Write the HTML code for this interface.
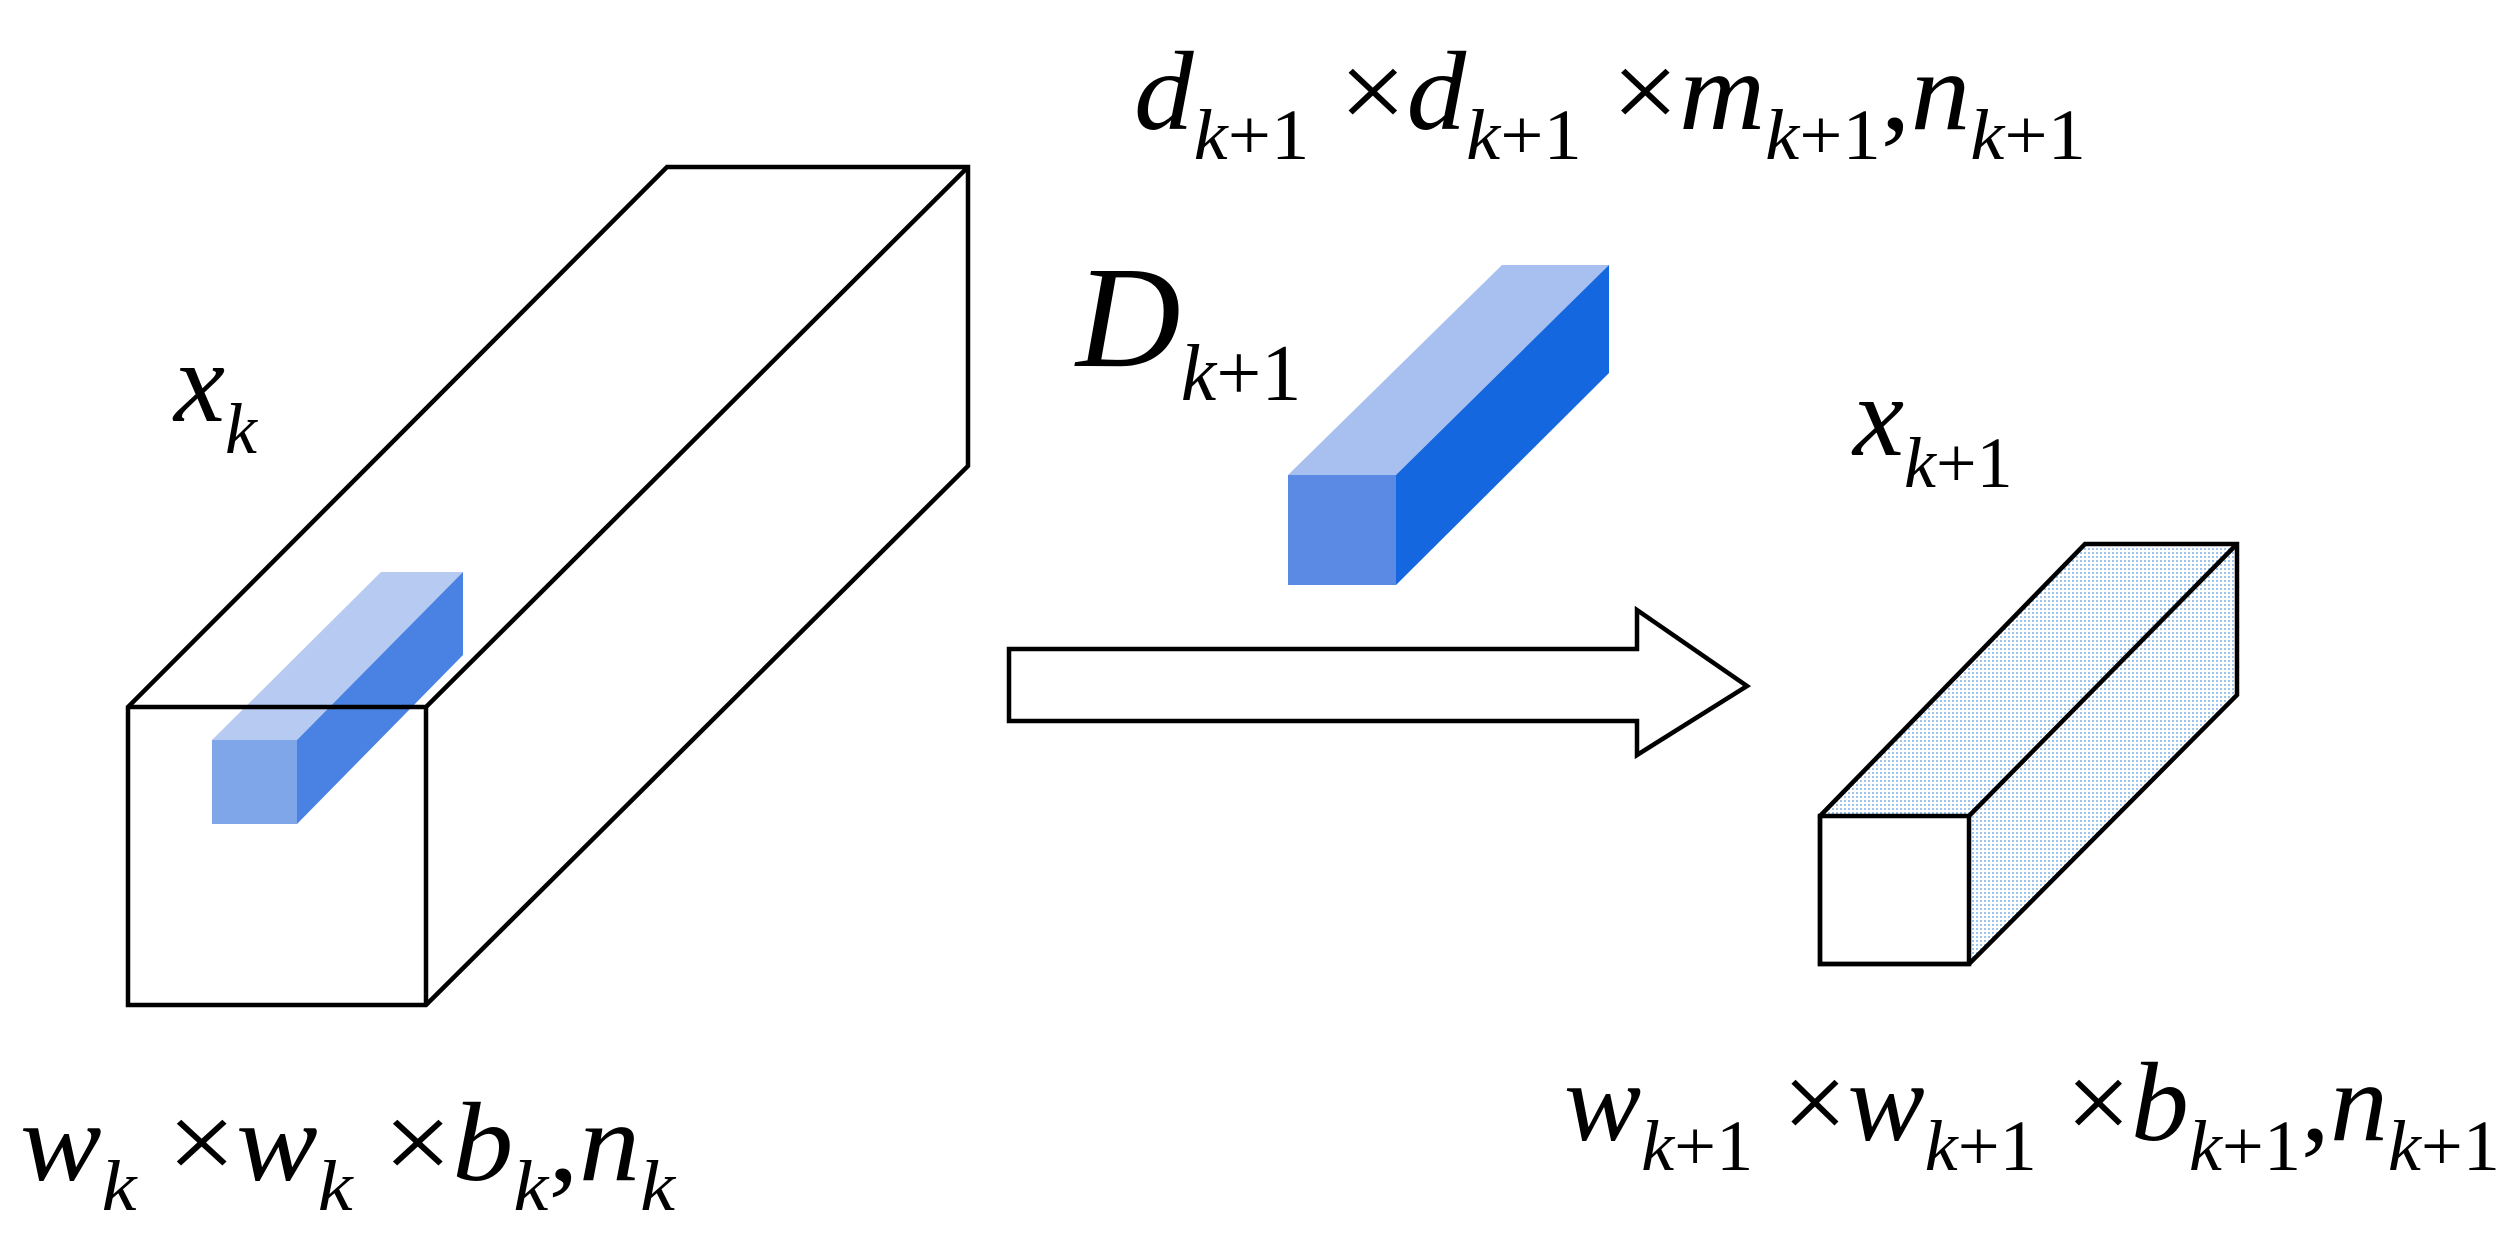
<!DOCTYPE html>
<html><head><meta charset="utf-8"><style>
html,body{margin:0;padding:0;background:#fff;}
svg{display:block;}
svg text, svg tspan{font-family:"Liberation Serif","Times New Roman","DejaVu Serif",serif;}
</style></head><body>
<svg width="2518" height="1234" viewBox="0 0 2518 1234" xmlns="http://www.w3.org/2000/svg">
<defs>
<pattern id="dots" width="4" height="4" patternUnits="userSpaceOnUse">
<rect width="4" height="4" fill="#fff"/>
<rect width="2" height="2" fill="#9cc4ec"/>
</pattern>
</defs>
<polygon points="128,707 667,167 968,167 968,466 426,1005 128,1005" fill="#fff"/>
<polygon points="212,740 381,572 463,572 297,740" fill="#b7cbf2"/>
<polygon points="297,740 463,572 463,655 297,824" fill="#4a82e4"/>
<rect x="212" y="740" width="85" height="84" fill="#80a6ea"/>
<g fill="none" stroke="#000" stroke-width="4.5">
<polyline points="128,707 426,707 968,167"/>
<line x1="426" y1="707" x2="426" y2="1005"/>
<polygon points="128,707 667,167 968,167 968,466 426,1005 128,1005"/>
</g>
<polygon points="1288,475 1502,265 1609,265 1396,475" fill="#a8c0f0"/>
<polygon points="1396,475 1609,265 1609,373 1396,585" fill="#1467de"/>
<rect x="1288" y="475" width="108" height="110" fill="#5a8ae4"/>
<polygon points="1009,649 1637,649 1637,610 1747,686 1637,755 1637,721 1009,721" fill="#fff" stroke="#000" stroke-width="4.5"/>
<polygon points="1820,816 2085,544 2237,544 1969,816" fill="url(#dots)"/>
<polygon points="1969,816 2237,544 2237,695 1969,964" fill="url(#dots)"/>
<g fill="none" stroke="#000" stroke-width="4.5">
<rect x="1820" y="816" width="149" height="148" fill="#fff"/>
<polygon points="1820,816 2085,544 2237,544 2237,695 1969,964 1820,964"/>
<polyline points="1969,816 2237,544"/>
</g>
<text x="1134" y="129" font-size="112" textLength="952" lengthAdjust="spacingAndGlyphs"><tspan font-style="italic">d</tspan><tspan font-style="italic" font-size="72" dy="30">k</tspan><tspan font-size="72">+1</tspan><tspan dy="-30"> ×</tspan><tspan font-style="italic">d</tspan><tspan font-style="italic" font-size="72" dy="30">k</tspan><tspan font-size="72">+1</tspan><tspan dy="-30"> ×</tspan><tspan font-style="italic">m</tspan><tspan font-style="italic" font-size="72" dy="30">k</tspan><tspan font-size="72">+1</tspan><tspan dy="-30">,</tspan><tspan font-style="italic">n</tspan><tspan font-style="italic" font-size="72" dy="30">k</tspan><tspan font-size="72">+1</tspan></text>
<text x="174" y="421" font-size="115"><tspan font-style="italic">x</tspan><tspan font-style="italic" font-size="72" dy="32">k</tspan></text>
<text x="1076" y="366" font-size="145"><tspan font-style="italic">D</tspan><tspan font-style="italic" font-size="80" dy="34">k</tspan><tspan font-size="80">+1</tspan></text>
<text x="1853" y="455" font-size="115"><tspan font-style="italic">x</tspan><tspan font-style="italic" font-size="72" dy="32">k</tspan><tspan font-size="72">+1</tspan></text>
<text x="20" y="1180" font-size="112" textLength="655" lengthAdjust="spacingAndGlyphs"><tspan font-style="italic">w</tspan><tspan font-style="italic" font-size="72" dy="30">k</tspan><tspan dy="-30"> ×</tspan><tspan font-style="italic">w</tspan><tspan font-style="italic" font-size="72" dy="30">k</tspan><tspan dy="-30"> ×</tspan><tspan font-style="italic">b</tspan><tspan font-style="italic" font-size="72" dy="30">k</tspan><tspan dy="-30">,</tspan><tspan font-style="italic">n</tspan><tspan font-style="italic" font-size="72" dy="30">k</tspan></text>
<text x="1564" y="1140" font-size="112" textLength="936" lengthAdjust="spacingAndGlyphs"><tspan font-style="italic">w</tspan><tspan font-style="italic" font-size="72" dy="30">k</tspan><tspan font-size="72">+1</tspan><tspan dy="-30"> ×</tspan><tspan font-style="italic">w</tspan><tspan font-style="italic" font-size="72" dy="30">k</tspan><tspan font-size="72">+1</tspan><tspan dy="-30"> ×</tspan><tspan font-style="italic">b</tspan><tspan font-style="italic" font-size="72" dy="30">k</tspan><tspan font-size="72">+1</tspan><tspan dy="-30">,</tspan><tspan font-style="italic">n</tspan><tspan font-style="italic" font-size="72" dy="30">k</tspan><tspan font-size="72">+1</tspan></text>
</svg>
</body></html>
